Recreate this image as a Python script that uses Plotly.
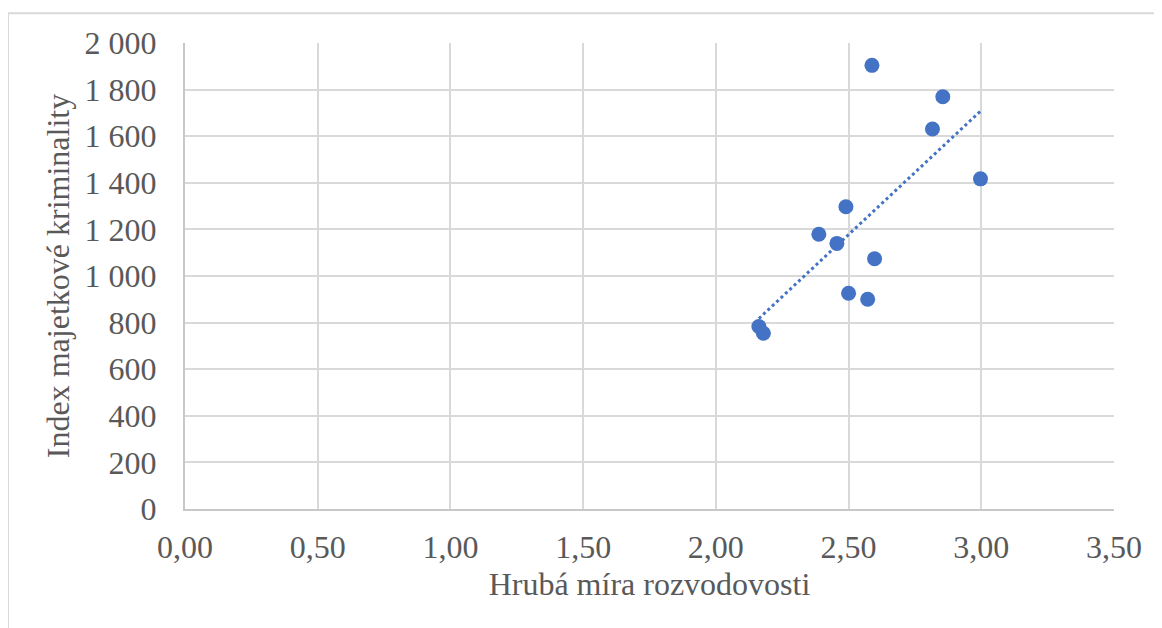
import numpy as np
import plotly.graph_objects as go

# Data
rozvodovost = [2.588, 2.855, 2.816, 2.997, 2.490, 2.388, 2.456, 2.598, 2.500, 2.572, 2.162, 2.179]
kriminalita = [1904, 1769, 1631, 1417, 1297, 1179, 1140, 1074, 926, 900, 783, 754]

x_title = "Hrubá míra rozvodovosti"
y_title = "Index majetkové kriminality"

# Linear trendline from data
slope, intercept = np.polyfit(rozvodovost, kriminalita, 1)
tx = [min(rozvodovost), max(rozvodovost)]
ty = [slope * v + intercept for v in tx]

blue = "#4472C4"
grey_text = "#595959"
grid = "#d9d9d9"
font_family = "Liberation Serif, Times New Roman, serif"
fs = 32

fig = go.Figure()
fig.add_trace(go.Scatter(x=tx, y=ty, mode="lines",
                         line=dict(color=blue, width=3, dash="dot"),
                         hoverinfo="skip", showlegend=False))
fig.add_trace(go.Scatter(x=rozvodovost, y=kriminalita, mode="markers",
                         marker=dict(color=blue, size=15, line=dict(width=0)),
                         showlegend=False))

fig.update_layout(
    width=1154, height=620,
    margin=dict(l=177, r=48, t=35, b=119),
    paper_bgcolor="white", plot_bgcolor="white",
    separators=", ",
    font=dict(family=font_family, color=grey_text, size=fs),
    xaxis=dict(range=[0, 3.5], dtick=0.5, tick0=0, tickformat=".2f",
               showgrid=True, gridcolor=grid, gridwidth=2,
               showline=True, linecolor="#c8c8c8", linewidth=2,
               zeroline=False, ticks="", ticklabelstandoff=9,
               tickfont=dict(size=fs, color=grey_text),
               title=dict(text=x_title, font=dict(size=fs, color=grey_text), standoff=8)),
    yaxis=dict(range=[0, 2000], dtick=200, tick0=0, tickformat=",d",
               showgrid=True, gridcolor=grid, gridwidth=2,
               showline=True, linecolor="#c8c8c8", linewidth=2,
               zeroline=False, ticks="", ticklabelstandoff=20,
               tickfont=dict(size=fs, color=grey_text),
               title=dict(text=y_title, font=dict(size=fs, color=grey_text), standoff=5)),
    shapes=[dict(type="rect", xref="paper", yref="paper",
                 x0=-0.1905, x1=1.06, y0=-0.27, y1=1.0637,
                 line=dict(color="#d9d9d9", width=2), fillcolor="rgba(0,0,0,0)",
                 layer="below")],
)

fig.write_html("out.html")
